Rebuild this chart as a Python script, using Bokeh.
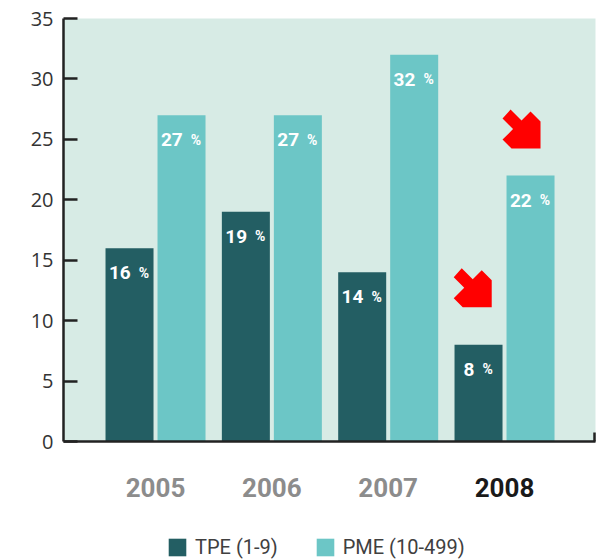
from bokeh.plotting import figure
from bokeh.layouts import column
from bokeh.models import ColumnDataSource, Range1d, FixedTicker, Legend, LegendItem
from bokeh.core.properties import value
from bokeh.transform import dodge
from bokeh.embed import file_html
from bokeh.resources import INLINE

# ---------------- data ----------------
years = ["2005", "2006", "2007", "2008"]
tpe = [16, 19, 14, 8]
pme = [27, 27, 32, 22]
y_ticks = [0, 5, 10, 15, 20, 25, 30, 35]
series_names = ["TPE (1-9)", "PME (10-499)"]
highlight_year = "2008"

# ---------------- layout / style ----------------
W = 598
H1, H2 = 456, 104
BL, BR, BT, BB = 63, 3, 18, 15
FW, FH = W - BL - BR, H1 - BT - BB
x_start, x_end = -0.791, 3.782
y_start, y_end = 0, 35
pxx = FW / (x_end - x_start)
pxy = FH / (y_end - y_start)

DARK = "#235e63"
LIGHT = "#6cc6c6"
BG = "#d7ebe5"
AXIS = "#222222"
FONT = "Roboto"

bar_w = 48 / pxx
off = 26 / pxx

p = figure(width=W, height=H1, x_range=Range1d(x_start, x_end), y_range=Range1d(y_start, y_end),
           output_backend="svg", toolbar_location=None,
           min_border_left=BL, min_border_right=BR, min_border_top=BT, min_border_bottom=BB,
           background_fill_color=BG, border_fill_color="white", outline_line_color=None)
p.xgrid.visible = False
p.ygrid.visible = False

idx = list(range(len(years)))
src = ColumnDataSource(dict(idx=idx, tpe=tpe, pme=pme))

p.vbar(x=dodge("idx", -off, range=p.x_range), top="tpe", width=bar_w, source=src,
       fill_color=DARK, line_color=None)
p.vbar(x=dodge("idx", off, range=p.x_range), top="pme", width=bar_w, source=src,
       fill_color=LIGHT, line_color=None)

# value labels inside bars
DIGIT_W, GAP, PCT_W = 10.7, 8.0, 11.0
def label_source(vals, shift):
    nx, pxo = [], []
    for v in vals:
        n = len(str(v))
        total = n * DIGIT_W + GAP + PCT_W
        a = -total / 2 + n * DIGIT_W
        nx.append(a)
        pxo.append(a + GAP)
    return ColumnDataSource(dict(x=[i + shift for i in idx], y=vals, t=[str(v) for v in vals],
                                 pc=["%"] * len(vals), nx=nx, px=pxo))

for vals, sh in ((tpe, -off), (pme, off)):
    ls = label_source(vals, sh)
    p.text(x="x", y="y", text="t", source=ls, x_offset="nx", y_offset=24.5,
           text_align="right", text_baseline="alphabetic", text_color="white",
           text_font=value(FONT), text_font_style="bold", text_font_size="19px")
    p.text(x="x", y="y", text="pc", source=ls, x_offset="px", y_offset=24.5,
           text_align="left", text_baseline="alphabetic", text_color="white",
           text_font=value(FONT), text_font_style="bold", text_font_size="14px")

# red arrows pointing at the highlighted year's bars
SHAPE = [(-38, -30), (-30, -39), (-19, -28), (-10, -37), (0, -27), (0, 0), (-29, 0), (-38, -9), (-27.5, -19.5)]
h = years.index(highlight_year)
anchors = [(h - off, tpe[h], 13.2, 37.6), (h + off, pme[h], 10.0, 27.0)]
axs, ays = [], []
for ax, ay, cx, cy in anchors:
    axs.append([ax + (cx + sx) / pxx for sx, sy in SHAPE])
    ays.append([ay + (cy - sy) / pxy for sx, sy in SHAPE])
p.patches(xs=axs, ys=ays, fill_color="#ff0000", line_color=None)

# axes
p.yaxis.ticker = FixedTicker(ticks=y_ticks)
p.yaxis.major_tick_in = 14
p.yaxis.major_tick_out = 0
p.yaxis.minor_tick_line_color = None
p.yaxis.axis_line_width = 2.5
p.yaxis.major_tick_line_width = 2.5
p.yaxis.axis_line_color = AXIS
p.yaxis.major_tick_line_color = AXIS
p.yaxis.major_label_text_font = "Open Sans"
p.yaxis.major_label_text_font_size = "20px"
p.yaxis.major_label_text_color = "#333333"
p.yaxis.major_label_standoff = 10

p.xaxis.ticker = FixedTicker(ticks=[x_end - 0.01])
p.xaxis.major_tick_in = 9
p.xaxis.major_tick_out = 0
p.xaxis.minor_tick_line_color = None
p.xaxis.axis_line_width = 2.5
p.xaxis.major_tick_line_width = 2.5
p.xaxis.axis_line_color = AXIS
p.xaxis.major_tick_line_color = AXIS
p.xaxis.major_label_overrides = {x_end - 0.01: " "}
p.xaxis.major_label_text_font_size = "1px"
p.xaxis.major_label_standoff = 0

# ---------------- lower strip: year labels + legend ----------------
p2 = figure(width=W, height=H2, x_range=p.x_range, y_range=Range1d(H2, 0),
            x_axis_type=None, y_axis_type=None,
            output_backend="svg", toolbar_location=None,
            min_border_left=BL, min_border_right=BR, min_border_top=0, min_border_bottom=0,
            background_fill_color="white", border_fill_color="white", outline_line_color=None)
p2.xgrid.visible = False
p2.ygrid.visible = False

ysrc = ColumnDataSource(dict(x=idx, t=years,
                             c=["#1a1a1a" if y == highlight_year else "#8c8c8c" for y in years]))
p2.text(x="x", y=31, text="t", source=ysrc, text_color="c", text_align="center",
        text_baseline="alphabetic", text_font=value(FONT), text_font_style="bold",
        text_font_size="26px")

# zero-size swatch renderers used only for the legend
d1 = p2.vbar(x=[0], top=[0], bottom=[0], width=0, fill_color=DARK, line_color=None)
d2 = p2.vbar(x=[0], top=[0], bottom=[0], width=0, fill_color=LIGHT, line_color=None)
legend = Legend(items=[LegendItem(label=series_names[0], renderers=[d1]),
                       LegendItem(label=series_names[1], renderers=[d2])],
                orientation="horizontal", location=(103, 1),
                glyph_width=22, glyph_height=22, label_standoff=7, spacing=36,
                padding=0, margin=0, border_line_color=None, background_fill_alpha=0,
                label_text_font=FONT, label_text_font_size="20px", label_text_color="#404040")
p2.add_layout(legend)

layout = column(p, p2, spacing=0)
open("out.html", "w").write(file_html(layout, INLINE))
